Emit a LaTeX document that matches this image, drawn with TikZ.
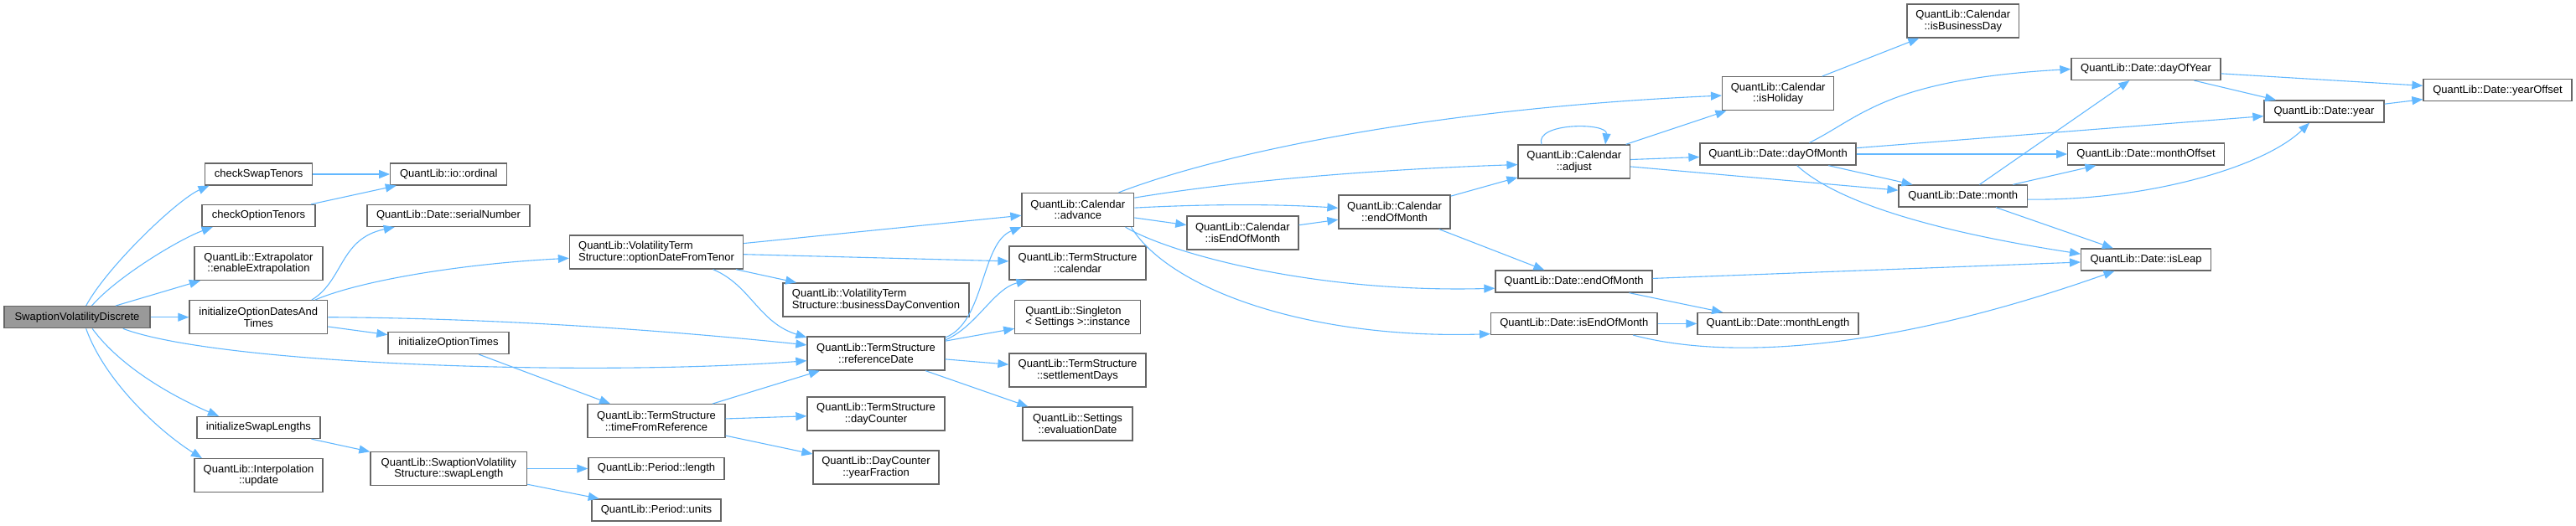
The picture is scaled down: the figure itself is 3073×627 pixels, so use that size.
\documentclass[tikz,border=0pt]{standalone}
\usepackage{fontspec}
\setmainfont{Liberation Sans}
\usetikzlibrary{arrows.meta}

\definecolor{edgeblue}{HTML}{63B8FF}
\definecolor{boxgray}{HTML}{666666}
\definecolor{rootgray}{HTML}{999999}

\begin{document}
\begin{tikzpicture}[
    x=1pt, y=-1pt,
    every node/.style={font=\fontsize{13}{13.5}\selectfont, align=center, inner sep=2pt},
    fn/.style={rectangle, draw=boxgray, line width=1.3pt, fill=white, minimum height=26pt},
    fnn/.style={fn, minimum height=40pt},
    root/.style={fn, fill=rootgray},
    call/.style={-{Triangle[length=13pt, width=10pt]}, line width=1.1pt, edgeblue}
]
    \useasboundingbox (0,0) rectangle (3073,627);

    % Caller
    \node[root, minimum width=174pt] (svd) at (92,378.7) {SwaptionVolatilityDiscrete};

    % First level
    \node[fn, minimum width=128pt] (cst) at (308.7,208) {checkSwapTenors};
    \node[fn, minimum width=135pt] (cot) at (308.5,257.5) {checkOptionTenors};
    \node[fnn, minimum width=153pt] (ext) at (308.5,314.5) {QuantLib::Extrapolator\\::enableExtrapolation};
    \node[fnn, minimum width=164.6pt] (iodt) at (308.3,378.7) {initializeOptionDatesAnd\\Times};
    \node[fn, minimum width=147pt] (isl) at (308.5,510.5) {initializeSwapLengths};
    \node[fnn, minimum width=153pt] (ipu) at (308.5,567.7) {QuantLib::Interpolation\\::update};

    % Second level
    \node[fn, minimum width=139pt] (ord) at (535.3,208) {QuantLib::io::ordinal};
    \node[fn, minimum width=194pt] (ser) at (535,257.5) {QuantLib::Date::serialNumber};
    \node[fn, minimum width=144pt] (iot) at (535,409.5) {initializeOptionTimes};
    \node[fnn, minimum width=186.6pt] (swl) at (535.3,559.5) {QuantLib::SwaptionVolatility\\Structure::swapLength};

    % Third level
    \node[fnn, align=left, minimum width=207pt] (odt) at (783,301) {QuantLib::VolatilityTerm\\Structure::optionDateFromTenor};
    \node[fnn, minimum width=164pt] (tfr) at (783,502.7) {QuantLib::TermStructure\\::timeFromReference};
    \node[fn, minimum width=162pt] (plen) at (783,559.5) {QuantLib::Period::length};
    \node[fn, minimum width=154pt] (puni) at (783,609) {QuantLib::Period::units};

    % Fourth level
    \node[fnn, align=left, minimum width=222pt] (bdc) at (1045,358) {QuantLib::VolatilityTerm\\Structure::businessDayConvention};
    \node[fnn, minimum width=164pt] (ref) at (1045,422) {QuantLib::TermStructure\\::referenceDate};
    \node[fnn, minimum width=164pt] (dcn) at (1045,494) {QuantLib::TermStructure\\::dayCounter};
    \node[fnn, minimum width=150pt] (yfr) at (1045,558) {QuantLib::DayCounter\\::yearFraction};

    % Fifth level
    \node[fnn, minimum width=133.6pt] (adv) at (1285.8,250.5) {QuantLib::Calendar\\::advance};
    \node[fnn, minimum width=163pt] (cal) at (1285.5,314) {QuantLib::TermStructure\\::calendar};
    \node[fnn, align=left, minimum width=150pt] (sgl) at (1285.8,378.7) {QuantLib::Singleton\\< Settings >::instance};
    \node[fnn, minimum width=163pt] (sdy) at (1285.5,442) {QuantLib::TermStructure\\::settlementDays};
    \node[fnn, minimum width=131pt] (evd) at (1285.5,506) {QuantLib::Settings\\::evaluationDate};

    % Calendar helpers
    \node[fnn, minimum width=133pt] (ceom) at (1482.4,278) {QuantLib::Calendar\\::isEndOfMonth};
    \node[fnn, minimum width=133pt] (cend) at (1663.5,253) {QuantLib::Calendar\\::endOfMonth};
    \node[fnn, minimum width=133.5pt] (adj) at (1877.8,193) {QuantLib::Calendar\\::adjust};
    \node[fn, minimum width=187pt] (dend) at (1877.5,336) {QuantLib::Date::endOfMonth};
    \node[fn, minimum width=198.4pt] (diem) at (1877.8,386.4) {QuantLib::Date::isEndOfMonth};
    \node[fnn, minimum width=133.2pt] (ihol) at (2121.2,111.7) {QuantLib::Calendar\\::isHoliday};
    \node[fnn, minimum width=133.5pt] (ibd) at (2341.8,25) {QuantLib::Calendar\\::isBusinessDay};

    % Date helpers
    \node[fn, minimum width=186pt] (dom) at (2121,184) {QuantLib::Date::dayOfMonth};
    \node[fn, minimum width=192pt] (mlen) at (2121,386.4) {QuantLib::Date::monthLength};
    \node[fn, minimum width=153.5pt] (mon) at (2341.8,234) {QuantLib::Date::month};
    \node[fn, minimum width=178pt] (doy) at (2560,82.5) {QuantLib::Date::dayOfYear};
    \node[fn, minimum width=186.5pt] (moff) at (2560,184) {QuantLib::Date::monthOffset};
    \node[fn, minimum width=154.7pt] (leap) at (2560,310) {QuantLib::Date::isLeap};
    \node[fn, minimum width=143pt] (yr) at (2772.5,133) {QuantLib::Date::year};
    \node[fn, minimum width=177pt] (yoff) at (2979.5,107.7) {QuantLib::Date::yearOffset};

    % Calls from the caller
    \draw[call] (svd.52) .. controls (128,318) and (212,238) .. (cst.193);
    \draw[call] (svd.38) .. controls (140,330) and (215,285) .. (cot.194);
    \draw[call] (svd) -- (ext);
    \draw[call] (svd) -- (iodt);
    \draw[call] (svd.-14) .. controls (260,435) and (700,450) .. (ref.186);
    \draw[call] (svd.-37) .. controls (145,440) and (210,475) .. (isl.164);
    \draw[call] (svd.-52) .. controls (125,455) and (190,515) .. (ipu.163);

    % Option and swap set-up
    \draw[call] (cst) -- (ord);
    \draw[call] (cot) -- (ord);
    \draw[call] (iodt.18) .. controls (410,335) and (405,285) .. (ser.192);
    \draw[call] (iodt.17) .. controls (430,335) and (550,315) .. (odt.184);
    \draw[call] (iodt.east) .. controls (600,380) and (800,395) .. (ref.173);
    \draw[call] (iodt) -- (iot);
    \draw[call] (iot) -- (tfr);
    \draw[call] (isl) -- (swl);
    \draw[call] (swl) -- (plen);
    \draw[call] (swl) -- (puni);

    % Term structure
    \draw[call] (odt) -- (adv);
    \draw[call] (odt) -- (cal);
    \draw[call] (odt) -- (bdc);
    \draw[call] (odt.-17) .. controls (895,340) and (905,385) .. (ref.167);
    \draw[call] (tfr) -- (ref);
    \draw[call] (tfr) -- (dcn);
    \draw[call] (tfr) -- (yfr);
    \draw[call] (ref.13) .. controls (1175,385) and (1170,290) .. (adv.197);
    \draw[call] (ref.11) .. controls (1165,390) and (1185,345) .. (cal.199);
    \draw[call] (ref) -- (sgl);
    \draw[call] (ref) -- (sdy);
    \draw[call] (ref) -- (evd);

    % Calendar
    \draw[call] (adv.23) .. controls (1450,185) and (1700,130) .. (ihol.182);
    \draw[call] (adv.12) .. controls (1480,215) and (1650,202) .. (adj.183);
    \draw[call] (adv.2) .. controls (1450,243) and (1530,244) .. (cend.176);
    \draw[call] (adv) -- (ceom);
    \draw[call] (adv.-20) .. controls (1390,300) and (1560,350) .. (dend.185);
    \draw[call] (adv.-18) .. controls (1395,345) and (1560,405) .. (diem.187);
    \draw[call] (ceom) -- (cend);
    \draw[call] (cend) -- (adj);
    \draw[call] (cend) -- (dend);
    \draw[call] (adj.152) .. controls (1830,146) and (1918,146) .. (adj.29);
    \draw[call] (adj) -- (ihol);
    \draw[call] (adj) -- (dom);
    \draw[call] (adj) -- (mon);
    \draw[call] (ihol) -- (ibd);

    % Date
    \draw[call] (dend) -- (leap);
    \draw[call] (dend) -- (mlen);
    \draw[call] (diem) -- (mlen);
    \draw[call] (diem.-11) .. controls (2060,430) and (2250,420) .. (leap.200);
    \draw[call] (dom.20) .. controls (2220,140) and (2250,95) .. (doy.west);
    \draw[call] (dom) -- (yr);
    \draw[call] (dom) -- (moff);
    \draw[call] (dom) -- (mon);
    \draw[call] (dom.-31) .. controls (2190,240) and (2300,275) .. (leap.175);
    \draw[call] (mon) -- (doy);
    \draw[call] (mon) -- (moff);
    \draw[call] (mon.-3) .. controls (2560,240) and (2700,200) .. (yr.218);
    \draw[call] (mon) -- (leap);
    \draw[call] (doy) -- (yoff);
    \draw[call] (doy) -- (yr);
    \draw[call] (yr) -- (yoff);

\end{tikzpicture}
\end{document}
